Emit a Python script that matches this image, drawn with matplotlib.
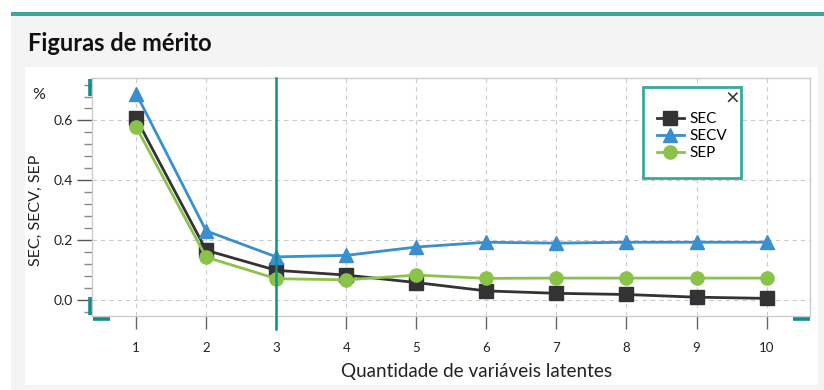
import matplotlib.pyplot as plt
from matplotlib.patches import Rectangle
from matplotlib.lines import Line2D
import numpy as np

# number of latent variables
n_vl = [1, 2, 3, 4, 5, 6, 7, 8, 9, 10]

sec = [0.607, 0.165, 0.098, 0.082, 0.057, 0.029, 0.021, 0.017, 0.008, 0.004]
secv = [0.69, 0.23, 0.143, 0.148, 0.176, 0.192, 0.189, 0.192, 0.192, 0.192]
sep = [0.578, 0.142, 0.07, 0.066, 0.082, 0.071, 0.072, 0.072, 0.072, 0.072]

series_names = ['SEC', 'SECV', 'SEP']
y_ticks = [0.0, 0.2, 0.4, 0.6]
selected_vl = 3

W, H = 824, 390
TEAL = '#3aa99c'
TEAL_DARK = '#0f8f8a'

plt.rcParams['font.family'] = ['Lato', 'DejaVu Sans']


def fx(x):
    return x / W


def fy(y):
    return 1 - y / H


fig = plt.figure(figsize=(W / 100, H / 100), dpi=100)
fig.patch.set_facecolor('white')

# panel backgrounds
fig.add_artist(Rectangle((fx(11), fy(390)), fx(824) - fx(11), fy(16) - fy(390),
                         transform=fig.transFigure, color='#f4f4f4', lw=0, zorder=-3))
fig.add_artist(Rectangle((fx(25), fy(385)), fx(818) - fx(25), fy(67) - fy(385),
                         transform=fig.transFigure, color='white', lw=0, zorder=-2))
fig.add_artist(Rectangle((fx(11), fy(16)), fx(824) - fx(11), fy(12) - fy(16),
                         transform=fig.transFigure, color=TEAL, lw=0, zorder=-1))

fig.text(fx(28), fy(51), 'Figuras de mérito', fontsize=17, fontweight='bold',
         va='baseline', ha='left', color='#111111')

ax = fig.add_axes([fx(92), fy(316), fx(810) - fx(92), fy(78) - fy(316)])
ax.set_facecolor('white')

ax.plot(n_vl, sec, color='#333333', lw=2, marker='s', ms=9.5, label=series_names[0], zorder=3)
ax.plot(n_vl, secv, color='#3a8fcf', lw=2, marker='^', ms=10.5, label=series_names[1], zorder=4)
ax.plot(n_vl, sep, color='#8bc34a', lw=2, marker='o', ms=9.5, label=series_names[2], zorder=5)

ax.set_xlim(0.37, 10.62)
ax.set_ylim(-0.055, 0.742)

ax.set_xticks(n_vl)
ax.set_xticklabels([str(v) for v in n_vl])
ax.set_yticks(y_ticks)
ax.set_yticklabels(['%.1f' % v for v in y_ticks])
ax.set_yticks(np.arange(-0.04, 0.73, 0.04), minor=True)

ax.tick_params(axis='x', length=9.5, width=1, color='#666666', pad=9.5, labelsize=9.5, labelcolor='#222222')
ax.tick_params(axis='y', which='major', length=10.5, width=1, color='#555555', pad=3.5,
               labelsize=10, labelcolor='#222222')
ax.tick_params(axis='y', which='minor', length=6, width=1, color='#888888')

ax.grid(True, which='major', color='#cccccc', lw=0.8, dashes=(4, 3.5))
ax.set_axisbelow(True)

for s in ax.spines.values():
    s.set_color('#cccccc')
    s.set_linewidth(1)

# axis titles
fig.text(fx(477), fy(371), 'Quantidade de variáveis latentes', fontsize=13.6, ha='center', va='center',
         color='#222222')
fig.text(fx(36), fy(210), 'SEC, SECV, SEP', fontsize=11.5, rotation=90, ha='center', va='center',
         color='#222222')
fig.text(fx(32), fy(99), '%', fontsize=11.5, color='#222222')

# selected number of latent variables
ax.axvline(selected_vl, ymin=-0.055, ymax=1, color=TEAL_DARK, lw=1.8, clip_on=False, zorder=6)

# range handles on the axes
handles = [((90, 79), (90, 96)), ((90, 297), (90, 315)),
           ((93, 319), (110, 319)), ((793, 319), (810, 319))]
for (x0, y0), (x1, y1) in handles:
    fig.add_artist(Line2D([fx(x0), fx(x1)], [fy(y0), fy(y1)], transform=fig.transFigure,
                          color=TEAL_DARK, lw=2.6, solid_capstyle='butt'))

# legend box
fig.add_artist(Rectangle((fx(643), fy(178)), fx(741) - fx(643), fy(87) - fy(178),
                         transform=fig.transFigure, facecolor='white', edgecolor=TEAL, lw=2, zorder=7))
fig.text(fx(732), fy(99), '×', fontsize=17, ha='center', va='center', color='#333333', zorder=8)
leg = fig.legend(loc='upper left', bbox_to_anchor=(fx(657), fy(112)), frameon=False,
                 fontsize=11, handlelength=1.75, handletextpad=0.35, labelspacing=0.2,
                 borderpad=0, borderaxespad=0)
leg.set_zorder(9)

fig.savefig('out.png', dpi=100)
